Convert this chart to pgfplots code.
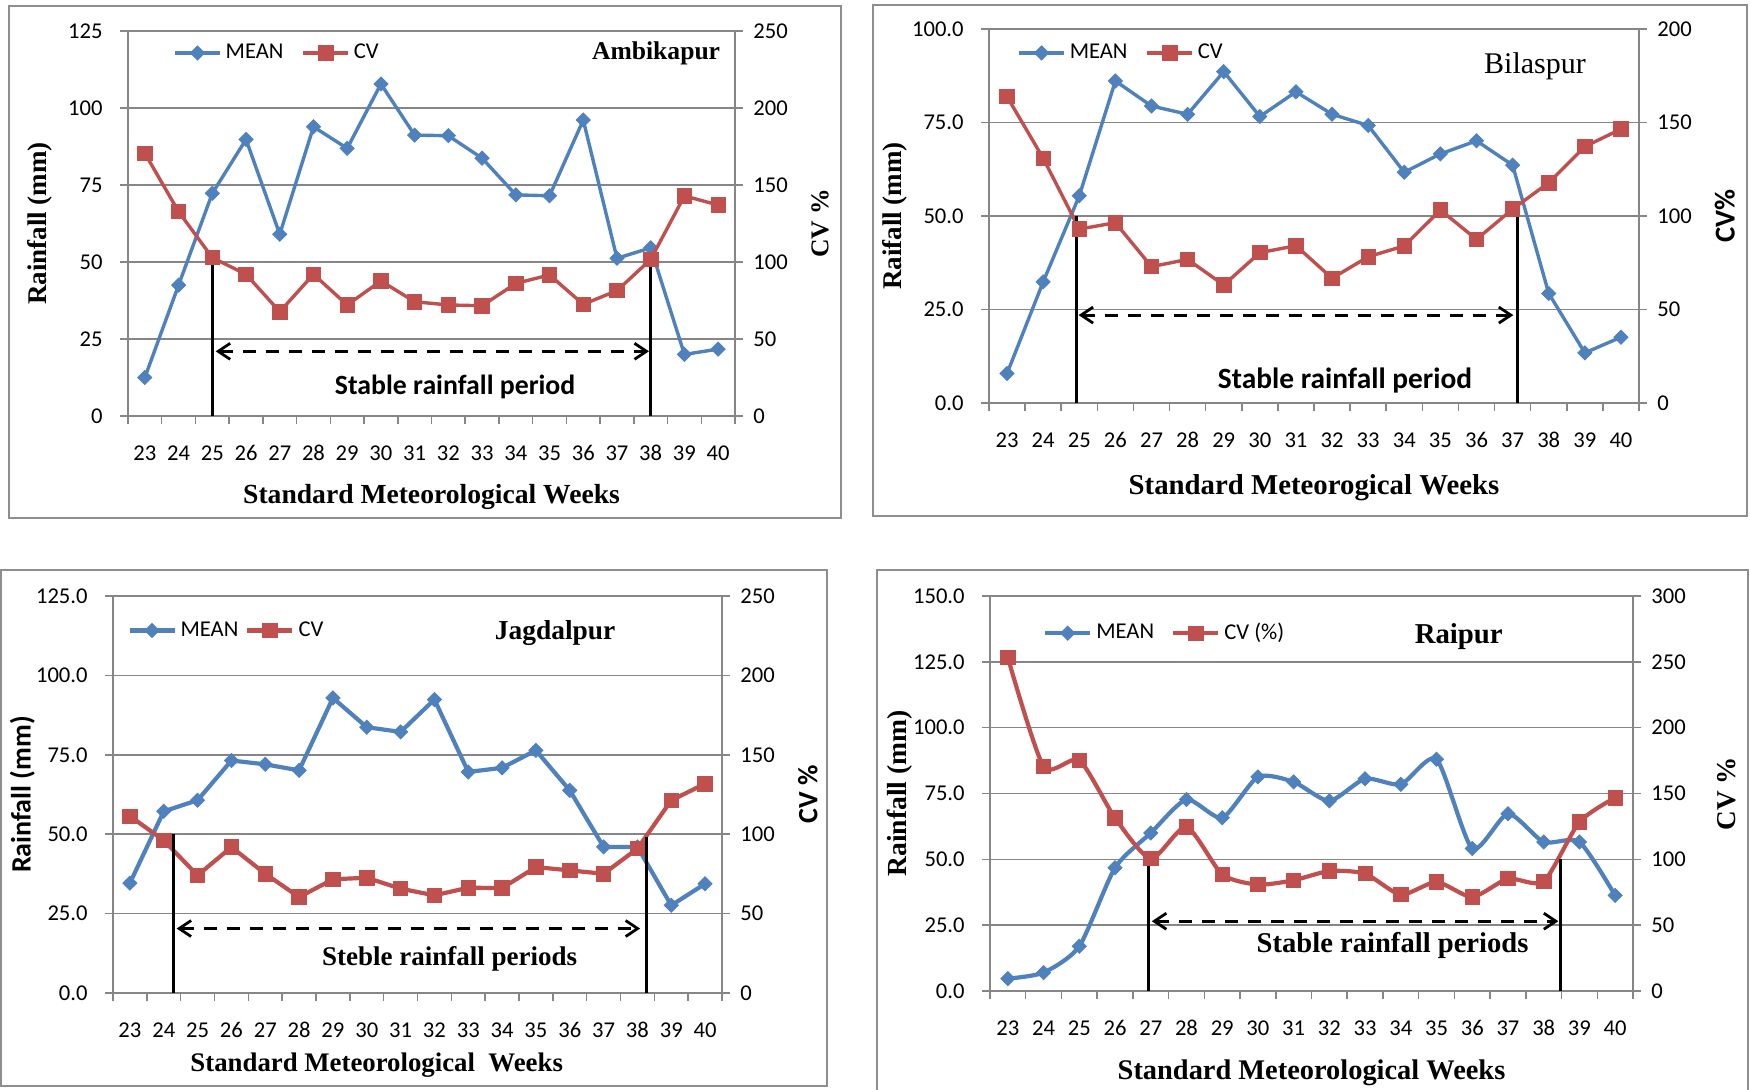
\documentclass[border=0pt]{standalone}
\usepackage{fontspec}
\setmainfont{Carlito}
\newfontfamily\tnr{Liberation Serif}
\usepackage{pgfplots}
\pgfplotsset{compat=1.18}
\usetikzlibrary{arrows.meta}
\definecolor{mblue}{HTML}{4F81BD}
\definecolor{mred}{HTML}{C0504D}
\definecolor{axgray}{HTML}{868686}
\definecolor{framegray}{HTML}{8E8E8E}
\newcommand\fs[1]{\fontsize{#1}{#1}\selectfont}
\pgfplotsset{
  common/.style={
    scale only axis, clip=false,
    xmin=-0.5, xmax=17.5, ymin=0,
    /pgf/number format/assume math mode=true,
    axis line style={draw=axgray, line width=0.75pt},
    tick style={draw=axgray, line width=0.75pt},
    tick align=outside, major tick length=4pt,
    xtick={-0.5,0.5,...,17.5},
    x tick label as interval,
    xticklabels={23,24,25,26,27,28,29,30,31,32,33,34,35,36,37,38,39,40},
    xticklabel style={font=\fs{11.3}, anchor=center, yshift=-14.5pt},
  },
  leftax/.style={common, xtick pos=bottom, ytick pos=left,
    ymajorgrids, major grid style={draw=axgray, line width=0.75pt},
    yticklabel style={font=\fs{11.3}, anchor=east, inner sep=0pt, xshift=-8.5pt},
    xlabel style={anchor=center},
    ylabel style={anchor=center},
  },
  rightax/.style={common, hide x axis, ytick pos=right, yticklabel pos=right,
    yticklabel style={font=\fs{11.3}, anchor=west, inner sep=0pt, xshift=5pt},
    ylabel style={anchor=center},
    legend style={draw=none, fill=none, inner sep=0pt, anchor=west, legend columns=-1,
      font=\fs{11.3}, /tikz/every even column/.append style={column sep=7pt}},
    legend image code/.code={\draw[mark repeat=2,mark phase=2,##1] plot coordinates {(0pt,0pt) (11.25pt,0pt) (22.5pt,0pt)};},
  },
  onedec/.style={/pgf/number format/fixed, /pgf/number format/fixed zerofill, /pgf/number format/precision=1},
  meanst/.style={mblue, line width=1.7pt, mark=square*, mark size=2.5pt,
    mark options={rotate=45, solid, fill=mblue, draw=mblue, line width=0.4pt}},
  cvst/.style={mred, line width=1.7pt, mark=square*, mark size=3.6pt,
    mark options={solid, fill=mred, draw=mred, line width=0.4pt}},
}
\tikzset{
  vl/.style={black, line width=1.5pt},
  arr/.style={black, line width=1.4pt, dash pattern=on 6.5pt off 5pt,
    {Straight Barb[length=6pt,width=8pt]}-{Straight Barb[length=6pt,width=8pt]}},
}
\begin{document}
\begin{tikzpicture}
\useasboundingbox (0,0) rectangle (875pt,544.5pt);
\clip (0,0) rectangle (875pt,544.5pt);
\draw[framegray, line width=0.75pt] (4.5pt,285.5pt) rectangle (420.5pt,541.5pt);
\draw[framegray, line width=0.75pt] (436.5pt,286.5pt) rectangle (873.5pt,542pt);
\draw[framegray, line width=0.75pt] (0.5pt,1.5pt) rectangle (413.5pt,259.5pt);
\draw[framegray, line width=0.75pt] (438.5pt,-2pt) rectangle (874pt,259.5pt);

% ---------------- Ambikapur ----------------
\begin{axis}[leftax, at={(64pt,336.5pt)}, anchor=south west, width=303.5pt, height=192.5pt,
  ymax=125, ytick={0,25,...,125},
  ylabel={Rainfall (mm)}, ylabel style={at={(axis description cs:-0.145,0.5)}, font=\tnr\bfseries\fs{13.5}},
  xlabel={Standard Meteorological Weeks}, xlabel style={at={(axis description cs:0.5,-0.21)}, font=\tnr\bfseries\fs{13.8}}]
\addplot[meanst] coordinates {(0,12.5)(1,42.5)(2,72.3)(3,89.8)(4,59.0)(5,93.9)(6,86.9)(7,107.8)(8,91.2)(9,91.0)(10,83.7)(11,71.8)(12,71.5)(13,96.1)(14,51.2)(15,54.6)(16,20.0)(17,21.7)};
\node[font=\tnr\bfseries\fs{12.8}] at (axis description cs:0.870,0.943) {Ambikapur};
\end{axis}
\begin{axis}[rightax, at={(64pt,336.5pt)}, anchor=south west, width=303.5pt, height=192.5pt,
  ymax=250, ytick={0,50,...,250},
  ylabel={CV \%}, ylabel style={at={(axis description cs:1.14,0.5)}, font=\tnr\bfseries\fs{12.8}},
  legend style={at={(axis description cs:0.074,0.943)}, /tikz/every even column/.append style={column sep=7pt}}]
\addlegendimage{meanst}\addlegendentry{MEAN}
\addplot[cvst] coordinates {(0,170.6)(1,132.7)(2,102.8)(3,92.0)(4,67.7)(5,92.0)(6,72.1)(7,87.7)(8,74.2)(9,72.1)(10,71.6)(11,86.1)(12,91.6)(13,72.5)(14,81.4)(15,101.7)(16,142.9)(17,137.0)};
\addlegendentry{CV}
\draw[vl] (axis cs:2,0) -- (axis cs:2,100);
\draw[vl] (axis cs:15,0) -- (axis cs:15,100);
\draw[arr] (axis cs:2.1,42) -- (axis cs:14.95,42);
\node[font=\bfseries\fs{13.9}] at (axis cs:9.2,19) {Stable rainfall period};
\end{axis}

% ---------------- Bilaspur ----------------
\begin{axis}[leftax, onedec, at={(494.5pt,343pt)}, anchor=south west, width=325pt, height=187pt,
  ymax=100, ytick={0,25,...,100},
  ylabel={Raifall (mm)}, ylabel style={at={(axis description cs:-0.145,0.5)}, font=\tnr\bfseries\fs{13.5}},
  xlabel={Standard Meteorogical Weeks}, xlabel style={at={(axis description cs:0.5,-0.227)}, font=\tnr\bfseries\fs{14.4}}]
\addplot[meanst] coordinates {(0,7.9)(1,32.4)(2,55.4)(3,86.1)(4,79.4)(5,77.2)(6,88.6)(7,76.6)(8,83.2)(9,77.2)(10,74.2)(11,61.7)(12,66.6)(13,70.1)(14,63.6)(15,29.3)(16,13.4)(17,17.6)};
\node[font=\tnr\fs{15}] at (axis description cs:0.84,0.899) {Bilaspur};
\end{axis}
\begin{axis}[rightax, at={(494.5pt,343pt)}, anchor=south west, width=325pt, height=187pt,
  ymax=200, ytick={0,50,...,200},
  ylabel={CV\%}, ylabel style={at={(axis description cs:1.132,0.5)}, font=\bfseries\fs{14.4}},
  legend style={at={(axis description cs:0.043,0.936)}, /tikz/every even column/.append style={column sep=7pt}}]
\addlegendimage{meanst}\addlegendentry{MEAN}
\addplot[cvst] coordinates {(0,163.8)(1,130.9)(2,93.0)(3,96.4)(4,72.9)(5,76.8)(6,63.1)(7,80.4)(8,84.1)(9,66.7)(10,78.2)(11,84.0)(12,103.2)(13,87.5)(14,103.7)(15,117.8)(16,137.1)(17,146.5)};
\addlegendentry{CV}
\draw[vl] (axis cs:1.93,0) -- (axis cs:1.93,100);
\draw[vl] (axis cs:14.13,0) -- (axis cs:14.13,100);
\draw[arr] (axis cs:1.98,47) -- (axis cs:14.02,47);
\node[font=\bfseries\fs{14.7}] at (axis cs:9.36,12.2) {Stable rainfall period};
\end{axis}

% ---------------- Jagdalpur ----------------
\begin{axis}[leftax, onedec, at={(56.5pt,48pt)}, anchor=south west, width=304.5pt, height=198.5pt,
  ymax=125, ytick={0,25,...,125},
  ylabel={Rainfall (mm)}, ylabel style={at={(axis description cs:-0.149,0.5)}, font=\bfseries\fs{14}},
  xlabel={Standard Meteorological\ \ Weeks}, xlabel style={at={(axis description cs:0.433,-0.181)}, font=\tnr\bfseries\fs{13.4}}]
\addplot[meanst, line width=2.1pt] coordinates {(0,34.6)(1,57.2)(2,60.7)(3,73.2)(4,72.0)(5,70.1)(6,92.9)(7,83.7)(8,82.2)(9,92.4)(10,69.6)(11,70.9)(12,76.4)(13,63.8)(14,46.0)(15,46.0)(16,27.6)(17,34.4)};
\node[font=\tnr\bfseries\fs{13.7}] at (axis description cs:0.726,0.906) {Jagdalpur};
\end{axis}
\begin{axis}[rightax, at={(56.5pt,48pt)}, anchor=south west, width=304.5pt, height=198.5pt,
  ymax=250, ytick={0,50,...,250},
  ylabel={CV \%}, ylabel style={at={(axis description cs:1.141,0.5)}, font=\bfseries\fs{14}},
  legend style={at={(axis description cs:0.023,0.913)}, /tikz/every even column/.append style={column sep=1.5pt}}]
\addlegendimage{meanst, line width=2.1pt}\addlegendentry{MEAN}
\addplot[cvst, line width=2.1pt] coordinates {(0,111.4)(1,96.1)(2,74.1)(3,91.9)(4,75.1)(5,60.4)(6,71.6)(7,72.6)(8,65.7)(9,61.5)(10,66.3)(11,66.1)(12,79.3)(13,77.2)(14,75.1)(15,90.9)(16,121.3)(17,131.8)};
\addlegendentry{CV}
\draw[vl] (axis cs:1.3,0) -- (axis cs:1.3,100);
\draw[vl] (axis cs:15.26,0) -- (axis cs:15.26,98);
\draw[arr] (axis cs:1.38,40.6) -- (axis cs:15.08,40.6);
\node[font=\tnr\bfseries\fs{13.5}] at (axis cs:9.45,21.6) {Steble rainfall periods};
\end{axis}

% ---------------- Raipur ----------------
\begin{axis}[leftax, onedec, at={(495pt,49pt)}, anchor=south west, width=321.5pt, height=197.5pt,
  ymax=150, ytick={0,25,...,150},
  ylabel={Rainfall (mm)}, ylabel style={at={(axis description cs:-0.140,0.5)}, font=\tnr\bfseries\fs{13.8}},
  xlabel={Standard Meteorological Weeks}, xlabel style={at={(axis description cs:0.5,-0.208)}, font=\tnr\bfseries\fs{14.2}}]
\addplot[meanst, line width=2.1pt, smooth, tension=0.4] coordinates {(0,4.7)(1,7.0)(2,17.0)(3,46.8)(4,60.0)(5,72.7)(6,65.8)(7,81.3)(8,79.4)(9,72.2)(10,80.6)(11,78.5)(12,88.0)(13,54.1)(14,67.3)(15,56.6)(16,56.6)(17,36.3)};
\node[font=\tnr\bfseries\fs{14.4}] at (axis description cs:0.729,0.897) {Raipur};
\end{axis}
\begin{axis}[rightax, at={(495pt,49pt)}, anchor=south west, width=321.5pt, height=197.5pt,
  ymax=300, ytick={0,50,...,300},
  ylabel={CV \%}, ylabel style={at={(axis description cs:1.146,0.5)}, font=\tnr\bfseries\fs{13.6}},
  legend style={at={(axis description cs:0.082,0.906)}, /tikz/every even column/.append style={column sep=6.5pt}}]
\addlegendimage{meanst, line width=2.1pt}\addlegendentry{MEAN}
\addplot[cvst, line width=2.1pt, smooth, tension=0.4] coordinates {(0,253.2)(1,170.6)(2,175.2)(3,131.4)(4,100.5)(5,124.6)(6,88.6)(7,80.8)(8,84.1)(9,91.1)(10,89.1)(11,73.2)(12,82.8)(13,71.4)(14,85.3)(15,83.3)(16,128.4)(17,146.8)};
\addlegendentry{CV (\%)}
\draw[vl] (axis cs:3.93,0) -- (axis cs:3.93,100);
\draw[vl] (axis cs:15.47,0) -- (axis cs:15.47,100);
\draw[arr] (axis cs:4.03,53) -- (axis cs:15.41,53);
\node[font=\tnr\bfseries\fs{14.3}] at (axis cs:10.77,34.6) {Stable rainfall periods};
\end{axis}
\end{tikzpicture}
\end{document}
